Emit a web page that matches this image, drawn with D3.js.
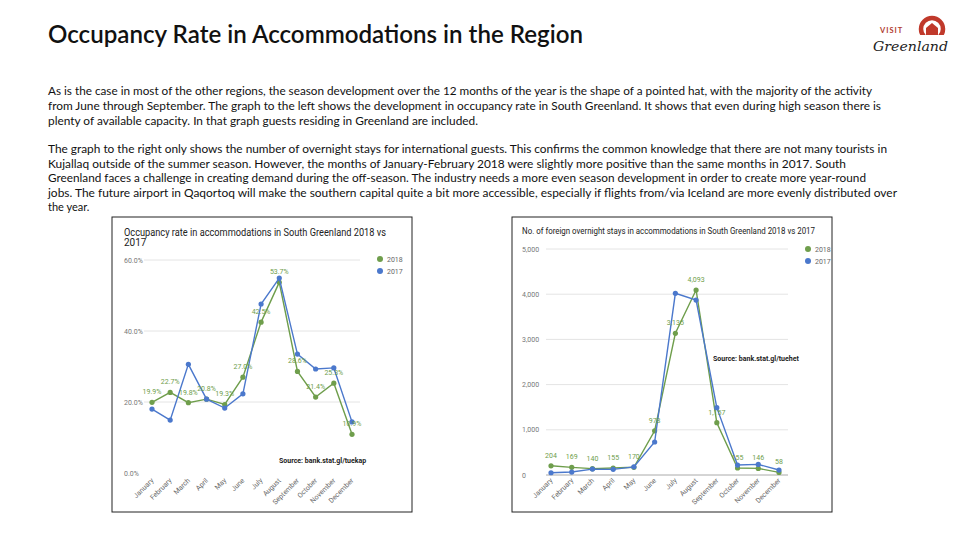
<!DOCTYPE html>
<html><head><meta charset="utf-8">
<script src="https://cdn.jsdelivr.net/npm/d3@7"></script>
<style>
html,body{margin:0;padding:0;background:#fff;}
svg{display:block;}
</style></head>
<body>
<svg id="c" width="960" height="540"></svg>
<script>
// ---------- DATA ----------
const months = ["January","February","March","April","May","June","July","August","September","October","November","December"];
const seriesNames = ["2018","2017"];
const occ2018 = [19.9, 22.7, 19.8, 20.8, 19.3, 27.0, 42.5, 53.7, 28.6, 21.4, 25.3, 10.9];
const occ2017 = [18.0, 14.9, 30.6, 20.8, 18.3, 22.3, 47.6, 54.9, 33.5, 29.3, 29.6, 14.4];
const occTicks = [0, 20, 40, 60];
const stays2018 = [204, 169, 140, 155, 170, 978, 3135, 4093, 1157, 155, 146, 58];
const stays2017 = [50, 65, 130, 125, 180, 730, 4020, 3870, 1490, 220, 235, 110];
const staysTicks = [0, 1000, 2000, 3000, 4000, 5000];

const pageTitle = "Occupancy Rate in Accommodations in the Region";
const para1 = [
 "As is the case in most of the other regions, the season development over the 12 months of the year is the shape of a pointed hat, with the majority of the activity",
 "from June through September. The graph to the left shows the development in occupancy rate in South Greenland. It shows that even during high season there is",
 "plenty of available capacity. In that graph guests residing in Greenland are included."
];
const para2 = [
 "The graph to the right only shows the number of overnight stays for international guests. This confirms the common knowledge that there are not many tourists in",
 "Kujallaq outside of the summer season. However, the months of January-February 2018 were slightly more positive than the same months in 2017. South",
 "Greenland faces a challenge in creating demand during the off-season. The industry needs a more even season development in order to create more year-round",
 "jobs. The future airport in Qaqortoq will make the southern capital quite a bit more accessible, especially if flights from/via Iceland are more evenly distributed over",
 "the year."
];
const leftTitle = ["Occupancy rate in accommodations in South Greenland 2018 vs", "2017"];
const rightTitle = ["No. of foreign overnight stays in accommodations in South Greenland 2018 vs 2017"];
const leftSource = "Source: bank.stat.gl/tuekap";
const rightSource = "Source: bank.stat.gl/tuehet";

// ---------- STYLE ----------
const GREEN = "#6f9e4c", BLUE = "#4b78cc";
const svg = d3.select("#c");

// Page title
svg.append("text").attr("x", 48).attr("y", 43)
  .style("font-family", "Lato, sans-serif").style("font-size", "24px").style("font-weight", "600")
  .attr("fill", "#111").attr("textLength", 535).attr("lengthAdjust", "spacingAndGlyphs").text(pageTitle);

// Paragraphs
const p1Ends = [872, 881, 478];
const p2Ends = [887, 846, 866, 897, null];
function para(lines, y0, dy, ends){
  lines.forEach((l,i)=>{
    const t = svg.append("text").attr("x", 48).attr("y", y0 + i*dy)
      .style("font-family", "Lato, sans-serif").style("font-size", "11px")
      .attr("fill", "#111").text(l);
    if (ends[i]) t.attr("textLength", ends[i]-48).attr("lengthAdjust", "spacingAndGlyphs");
  });
}
para(para1, 95, 14.8, p1Ends);
para(para2, 153, 14.6, p2Ends);

// Logo
const logo = svg.append("g");
logo.append("circle").attr("cx", 932).attr("cy", 29).attr("r", 11).attr("fill", "none")
  .attr("stroke", "#c0392b").attr("stroke-width", 4.5);
logo.append("rect").attr("x", 916).attr("y", 35).attr("width", 34).attr("height", 12).attr("fill", "#fff");
logo.append("path").attr("d", "M926,35 L926,28 L932,23 L938,28 L938,35 Z").attr("fill", "#c0392b");
logo.append("text").attr("x", 880).attr("y", 33).style("font-family", "Lato, sans-serif")
  .style("font-size", "7.5px").style("font-weight", "700").attr("fill", "#b03a2e").attr("letter-spacing", "1").text("VISIT");
logo.append("text").attr("x", 873).attr("y", 51).style("font-family", "'DejaVu Serif', serif")
  .style("font-size", "13px").style("font-style", "italic").attr("fill", "#222")
  .attr("textLength", 75).attr("lengthAdjust", "spacingAndGlyphs").text("Greenland");

// ---------- chart helper ----------
function chart(opts){
  const g = svg.append("g");
  g.append("rect").attr("x", opts.box[0]).attr("y", opts.box[1])
    .attr("width", opts.box[2]).attr("height", opts.box[3])
    .attr("fill", "#fff").attr("stroke", "#222").attr("stroke-width", 1);
  const x = d3.scalePoint().domain(months).range(opts.xr);
  const y = d3.scaleLinear().domain(opts.yd).range(opts.yr);
  // grid
  g.selectAll(".grid").data(opts.ticks.filter(t => t > 0 || opts.baseline)).enter().append("line")
    .attr("x1", opts.gx[0]).attr("x2", opts.gx[1])
    .attr("y1", d => y(d)).attr("y2", d => y(d))
    .attr("stroke", d => d === 0 ? "#aaa" : "#e4e4e4").attr("stroke-width", 1);
  // y labels
  g.selectAll(".yl").data(opts.ticks).enter().append("text")
    .attr("x", opts.ylx).attr("y", d => y(d) + 2.5)
    .style("font-family", "Roboto, sans-serif").style("font-size", "7px")
    .attr("fill", "#777").text(opts.fmt);
  // x labels
  g.selectAll(".xl").data(months).enter().append("text")
    .attr("transform", d => `translate(${x(d)+2},${opts.xly}) rotate(-45)`)
    .attr("text-anchor", "end")
    .style("font-family", "Roboto, sans-serif").style("font-size", "7px")
    .attr("fill", "#666").text(d => d);
  const line = d3.line().x((d,i) => x(months[i])).y(d => y(d));
  [[opts.s2018, GREEN], [opts.s2017, BLUE]].forEach(([s, c]) => {
    g.append("path").attr("d", line(s)).attr("fill", "none").attr("stroke", c).attr("stroke-width", 1.4);
    g.selectAll(null).data(s).enter().append("circle")
      .attr("cx", (d,i) => x(months[i])).attr("cy", d => y(d)).attr("r", 2.6).attr("fill", c);
  });
  // data labels (2018)
  g.selectAll(".dl").data(opts.s2018).enter().append("text")
    .attr("x", (d,i) => x(months[i])).attr("y", (d,i) => y(d) - 8)
    .attr("text-anchor", "middle")
    .style("font-family", "Roboto, sans-serif").style("font-size", "7px")
    .attr("fill", GREEN).text(opts.lfmt);
  // legend
  seriesNames.forEach((n, i) => {
    g.append("circle").attr("cx", opts.leg[0]).attr("cy", opts.leg[1] + i*12).attr("r", 3)
      .attr("fill", i === 0 ? GREEN : BLUE);
    g.append("text").attr("x", opts.leg[0] + 7).attr("y", opts.leg[1] + i*12 + 2.5)
      .style("font-family", "Roboto, sans-serif").style("font-size", "7px").attr("fill", "#666").text(n);
  });
  // title
  opts.title.forEach((t, i) => {
    const tt = g.append("text").attr("x", opts.tpos[0]).attr("y", opts.tpos[1] + i*opts.tdy)
      .style("font-family", "Roboto, sans-serif").style("font-size", opts.tsize)
      .attr("fill", "#222").text(t);
    if (i === 0) tt.attr("textLength", opts.tlen).attr("lengthAdjust", "spacingAndGlyphs");
  });
  g.append("text").attr("x", opts.src[0]).attr("y", opts.src[1])
    .style("font-family", "Roboto, sans-serif").style("font-size", "7px").style("font-weight", "700")
    .attr("fill", "#222").text(opts.source);
}

chart({
  box: [112, 217, 300, 295],
  xr: [152, 352], yd: [0, 60], yr: [473, 260],
  ticks: occTicks, baseline: false, gx: [144, 360], ylx: 124,
  fmt: d => d3.format(".1f")(d) + "%", lfmt: d => d3.format(".1f")(d) + "%",
  xly: 481, s2018: occ2018, s2017: occ2017,
  leg: [380, 259], title: leftTitle, tpos: [124, 236], tdy: 10, tsize: "10px", tlen: 262,
  src: [279, 463], source: leftSource
});

chart({
  box: [512, 217, 320, 295],
  xr: [551, 779], yd: [0, 5000], yr: [475, 249],
  ticks: staysTicks, baseline: true, gx: [546, 788], ylx: 522,
  fmt: d3.format(","), lfmt: d3.format(","),
  xly: 481, s2018: stays2018, s2017: stays2017,
  leg: [808, 249], title: rightTitle, tpos: [522, 234], tdy: 9, tsize: "8.3px", tlen: 293,
  src: [713, 361], source: rightSource
});
</script>
</body></html>
